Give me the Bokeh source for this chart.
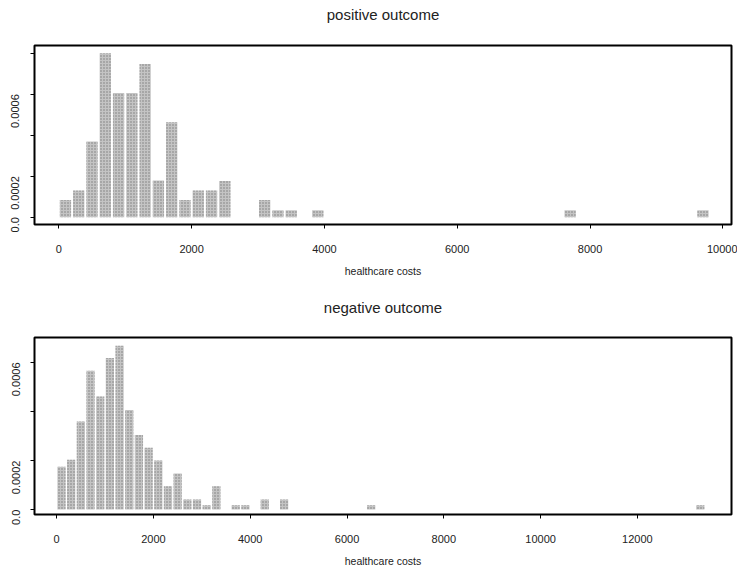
import math
from bokeh.plotting import figure
from bokeh.layouts import column
from bokeh.models import FixedTicker, Range1d, Title
from bokeh.embed import file_html
from bokeh.resources import INLINE

BIN_WIDTH = 200

# positive outcome: left edges of non-empty bins and densities
pos_left = [0, 200, 400, 600, 800, 1000, 1200, 1400, 1600, 1800, 2000, 2200, 2400,
            3000, 3200, 3400, 3800, 7600, 9600]
pos_density = [0.000084, 0.000130, 0.000369, 0.000800, 0.000606, 0.000606, 0.000748,
               0.000179, 0.000463, 0.000084, 0.000130, 0.000130, 0.000176,
               0.000084, 0.000033, 0.000033, 0.000033, 0.000033, 0.000033]

# negative outcome
neg_left = [0, 200, 400, 600, 800, 1000, 1200, 1400, 1600, 1800, 2000, 2200, 2400,
            2600, 2800, 3000, 3200, 3600, 3800, 4200, 4600, 6400, 13200]
neg_density = [0.000175, 0.000203, 0.000359, 0.000566, 0.000461, 0.000618, 0.000668,
               0.000406, 0.000304, 0.000252, 0.000200, 0.000095, 0.000147,
               0.000041, 0.000041, 0.000018, 0.000095, 0.000018, 0.000018,
               0.000041, 0.000041, 0.000018, 0.000018]

pos_xticks = [0, 2000, 4000, 6000, 8000, 10000]
neg_xticks = [0, 2000, 4000, 6000, 8000, 10000, 12000]
yticks = [0, 0.0002, 0.0004, 0.0006, 0.0008]
ytick_labels = {0: "0.0", 0.0002: "0.0002", 0.0004: "", 0.0006: "0.0006", 0.0008: ""}

FONT = "Liberation Sans"
TXT = "#222222"


def make_panel(title, spacer, lefts, dens, xr, yr, xticks, height, b_top, b_bottom, b_left, b_right, ystand):
    p = figure(width=737, height=height, output_backend="svg", toolbar_location=None,
               x_range=Range1d(*xr), y_range=Range1d(*yr), title=None,
               min_border_top=b_top, min_border_bottom=b_bottom,
               min_border_left=b_left, min_border_right=b_right)
    p.grid.visible = False
    p.outline_line_color = "black"
    p.outline_line_width = 2
    p.outline_line_alpha = 1
    p.background_fill_color = "white"
    p.border_fill_color = "white"

    # spacer between frame and title, then the title itself
    p.add_layout(Title(text=" ", text_font_size="1px", standoff=spacer), "above")
    p.add_layout(Title(text=title, align="center", vertical_align="middle",
                       text_font=FONT, text_font_size="15px", text_font_style="normal",
                       text_color=TXT, standoff=b_top - spacer - 22), "above")

    inset = 15
    p.quad(left=[l + inset for l in lefts], right=[l + BIN_WIDTH - inset for l in lefts],
           bottom=0, top=dens, fill_color="#c4c4c4", line_color=None,
           hatch_pattern="dot", hatch_color="#7a7a7a", hatch_scale=3, hatch_weight=1.2)

    xa = p.xaxis[0]
    xa.ticker = FixedTicker(ticks=xticks)
    xa.axis_label = "healthcare costs"
    xa.axis_label_text_font = FONT
    xa.axis_label_text_font_size = "10.5px"
    xa.axis_label_text_font_style = "normal"
    xa.axis_label_text_color = TXT
    xa.axis_label_standoff = 9
    xa.major_label_text_font = FONT
    xa.major_label_text_font_size = "11px"
    xa.major_label_text_color = TXT
    xa.major_label_standoff = 16
    xa.major_tick_out = 4
    xa.major_tick_in = 0
    xa.minor_tick_out = 0
    xa.minor_tick_in = 0
    xa.axis_line_color = "black"

    ya = p.yaxis[0]
    ya.ticker = FixedTicker(ticks=yticks)
    ya.major_label_overrides = ytick_labels
    ya.major_label_orientation = math.pi / 2
    ya.major_label_text_font = FONT
    ya.major_label_text_font_size = "11px"
    ya.major_label_text_color = TXT
    ya.major_label_standoff = ystand
    ya.major_tick_out = 4
    ya.major_tick_in = 0
    ya.minor_tick_out = 0
    ya.minor_tick_in = 0
    ya.axis_line_color = "black"
    return p


p1 = make_panel("positive outcome", 14, pos_left, pos_density,
                (-366, 10130), (-0.000036, 0.000838),
                pos_xticks, 290, 45, 66, 34, 6, 15)
p2 = make_panel("negative outcome", 10, neg_left, neg_density,
                (-458, 13945), (-0.000020, 0.000702),
                neg_xticks, 283, 47, 59, 32, 4, 14)

layout = column(p1, p2, spacing=0)
open("out.html", "w").write(file_html(layout, INLINE))
